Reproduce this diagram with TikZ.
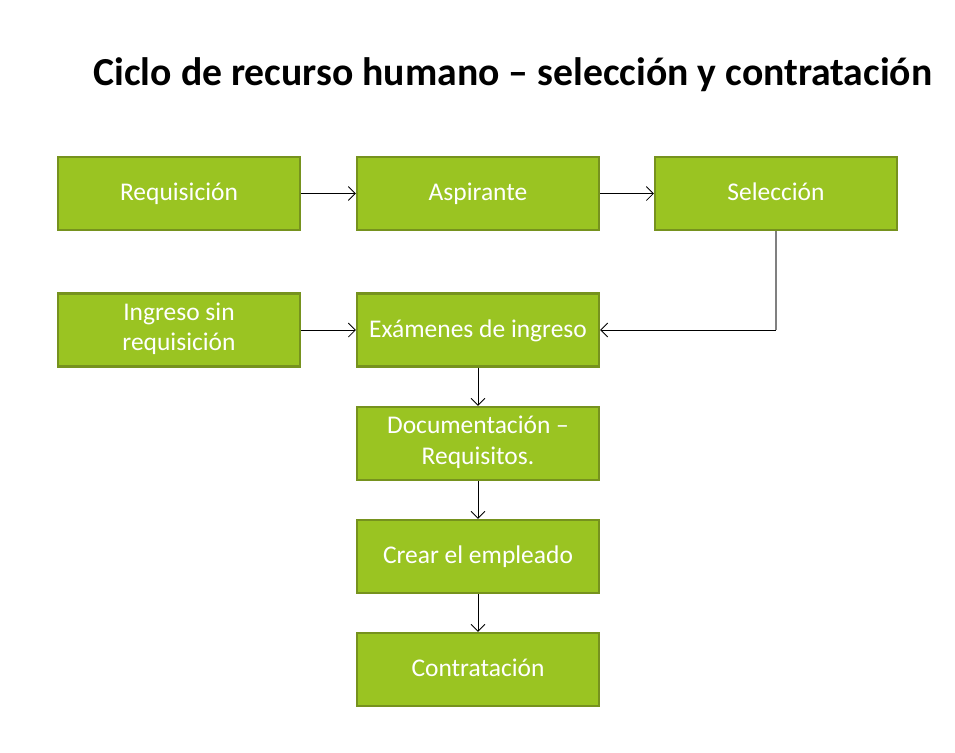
\documentclass[tikz,border=0pt]{standalone}
\usepackage{fontspec}
\setmainfont{Carlito}
\usepackage{xcolor}
\usetikzlibrary{arrows,positioning,calc,arrows.meta}
\definecolor{boxfill}{RGB}{154,196,34}
\definecolor{boxline}{RGB}{118,146,30}
\tikzset{
    stepbox/.style={draw=boxline, line width=1.2pt, fill=boxfill, text=white,
        minimum width=4.84cm, minimum height=1.46cm, align=center,
        inner sep=2pt, font=\fontsize{14.5}{17.2}\selectfont,
        execute at begin node={\rule[-0.25em]{0pt}{1.05em}}},
    flow/.style={-{Straight Barb[length=4pt,width=8pt]}, line width=0.5pt}
}
\begin{document}
\begin{tikzpicture}[x=0.02cm,y=-0.02cm]
    \useasboundingbox (0,0) rectangle (955,752);
    \node[font=\bfseries\fontsize{22.6}{27}\selectfont] (title) at (513,75) {Ciclo de recurso humano -- selección y contratación};

    \node[stepbox] (req) at (179,193.5) {Requisición};
    \node[stepbox] (asp) at (478,193.5) {Aspirante};
    \node[stepbox] (sel) at (776,193.5) {Selección};
    \node[stepbox] (sinreq) at (179,330) {Ingreso sin\\requisición};
    \node[stepbox] (exam) at (478,330) {Exámenes de ingreso};
    \node[stepbox] (doc) at (478,443.5) {Documentación --\\Requisitos.};
    \node[stepbox] (crear) at (478,556.5) {Crear el empleado};
    \node[stepbox] (contr) at (478,669.5) {Contratación};

    \coordinate (codo) at (sel.south |- exam.east);

    \draw[flow] (req) -- (asp);
    \draw[flow] (asp) -- (sel);
    \draw[gray, line width=0.8pt] (sel.south) -- (codo);
    \draw[flow] (codo) -- (exam.east);
    \draw[flow] (sinreq) -- (exam);
    \draw[flow] (exam) -- (doc);
    \draw[flow] (doc) -- (crear);
    \draw[flow] (crear) -- (contr);
\end{tikzpicture}
\end{document}
